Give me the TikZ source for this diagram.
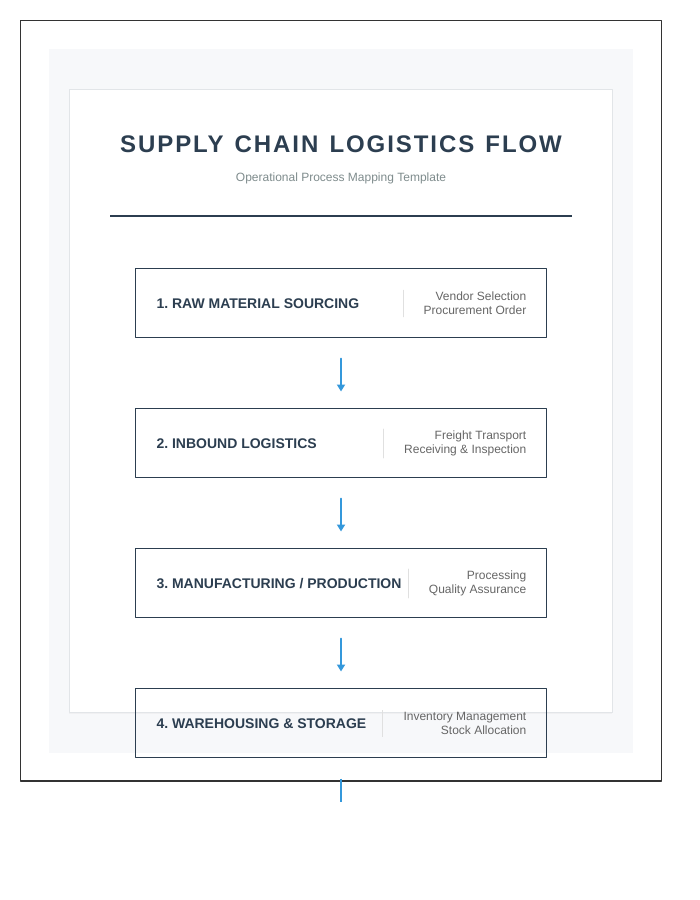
\documentclass[tikz,border=0pt]{standalone}
\usepackage{fontspec}
\setmainfont{Liberation Sans}
\newfontfamily\titlefont[LetterSpace=8,WordSpace=1.3]{Liberation Sans}
\usetikzlibrary{arrows.meta,shadows}
\frenchspacing
\definecolor{navy}{RGB}{44,62,80}
\definecolor{subgray}{RGB}{127,140,141}
\definecolor{notegray}{RGB}{102,102,102}
\definecolor{flowblue}{RGB}{52,152,219}
\definecolor{panelfill}{RGB}{247,248,250}
\definecolor{cardline}{RGB}{226,229,232}
\definecolor{rulegray}{RGB}{224,224,224}
\definecolor{framegray}{RGB}{51,51,51}
\tikzset{
    charttitle/.style={
        font=\titlefont\bfseries\fontsize{24}{29}\selectfont
    },
    subtitle/.style={
        font=\fontsize{12}{14}\selectfont
    }
}

\begin{document}
\begin{tikzpicture}[x=1pt,y=-1pt, line cap=round, line join=round]

% frame + stage styles (pixel grid, y down)
\tikzset{
  outerframe/.style={draw=framegray, line width=1.2pt},
  panel/.style={fill=panelfill},
  card/.style={fill=white, draw=cardline, line width=0.8pt, drop shadow={opacity=0.06, shadow xshift=0pt, shadow yshift=-2pt}},
  stage/.style={rectangle, draw=navy, line width=1pt, minimum width=411pt, minimum height=69pt, inner sep=0pt},
  stagelab/.style={anchor=base west, inner sep=0pt, text=navy, font=\bfseries\fontsize{14}{17}\selectfont},
  stagenote/.style={anchor=east, inner xsep=0pt, inner ysep=1.5pt, align=right, text=notegray, font=\fontsize{12}{14.4}\selectfont},
  divider/.style={draw=rulegray, line width=0.8pt},
  flow/.style={draw=flowblue, line width=2pt, -{Triangle[width=8pt,length=7pt]}},
  flowtail/.style={draw=flowblue, line width=2pt},
}

  \useasboundingbox (0,0) rectangle (700,900);

  % background layers
  \draw[outerframe] (20.5,20.5) rectangle (661.5,781);
  \path[panel] (49,49) rectangle (633,753);
  \path[card] (69,89) rectangle (612,712);

  % header
  \node[charttitle, anchor=base, inner sep=0pt, text=navy] (title) at (341,152.3) {SUPPLY CHAIN LOGISTICS FLOW};
  \node[subtitle, anchor=base, inner sep=0pt, text=subgray] (sub) at (341,181) {Operational Process Mapping Template};
  \coordinate (ruleL) at (110,216);
  \coordinate (ruleR) at (572,216);
  \draw[draw=navy, line width=2pt, line cap=butt] (ruleL) -- (ruleR);

  % stages
  \node[stage] (s1) at (341,302.5) {};
  \node[stage] (s2) at (341,442.5) {};
  \node[stage] (s3) at (341,582.5) {};
  \node[stage] (s4) at (341,722.5) {};

  % stage titles
  \node[stagelab] (l1) at ([xshift=21.3pt, yshift=-5.8pt]s1.west) {1. RAW MATERIAL SOURCING};
  \node[stagelab] (l2) at ([xshift=21.3pt, yshift=-5.8pt]s2.west) {2. INBOUND LOGISTICS};
  \node[stagelab] (l3) at ([xshift=21.3pt, yshift=-5.8pt]s3.west) {3. MANUFACTURING / PRODUCTION};
  \node[stagelab] (l4) at ([xshift=21.3pt, yshift=-5.8pt]s4.west) {4. WAREHOUSING \& STORAGE};

  % stage notes
  \node[stagenote] (n1) at ([xshift=-20.5pt, yshift=-1pt]s1.east) {Vendor Selection\\Procurement Order};
  \node[stagenote] (n2) at ([xshift=-20.5pt, yshift=-1pt]s2.east) {Freight Transport\\Receiving \& Inspection};
  \node[stagenote] (n3) at ([xshift=-20.5pt, yshift=-1pt]s3.east) {Processing\\Quality Assurance};
  \node[stagenote] (n4) at ([xshift=-20.5pt, yshift=-1pt]s4.east) {Inventory Management\\Stock Allocation};

  % dividers
  \draw[divider] ([xshift=-20.5pt]n1.north west) -- ([xshift=-20.5pt]n1.south west);
  \draw[divider] ([xshift=-20.5pt]n2.north west) -- ([xshift=-20.5pt]n2.south west);
  \draw[divider] ([xshift=-20.5pt]n3.north west) -- ([xshift=-20.5pt]n3.south west);
  \draw[divider] ([xshift=-20.5pt]n4.north west) -- ([xshift=-20.5pt]n4.south west);

  % flow arrows
  \draw[flow, shorten <=21pt, shorten >=16pt] (s1) -- (s2);
  \draw[flow, shorten <=21pt, shorten >=16pt] (s2) -- (s3);
  \draw[flow, shorten <=21pt, shorten >=16pt] (s3) -- (s4);
  \coordinate (tailend) at (341,802);
  \draw[flowtail, line cap=butt, shorten <=21pt] (s4) -- (tailend);

\end{tikzpicture}
\end{document}
